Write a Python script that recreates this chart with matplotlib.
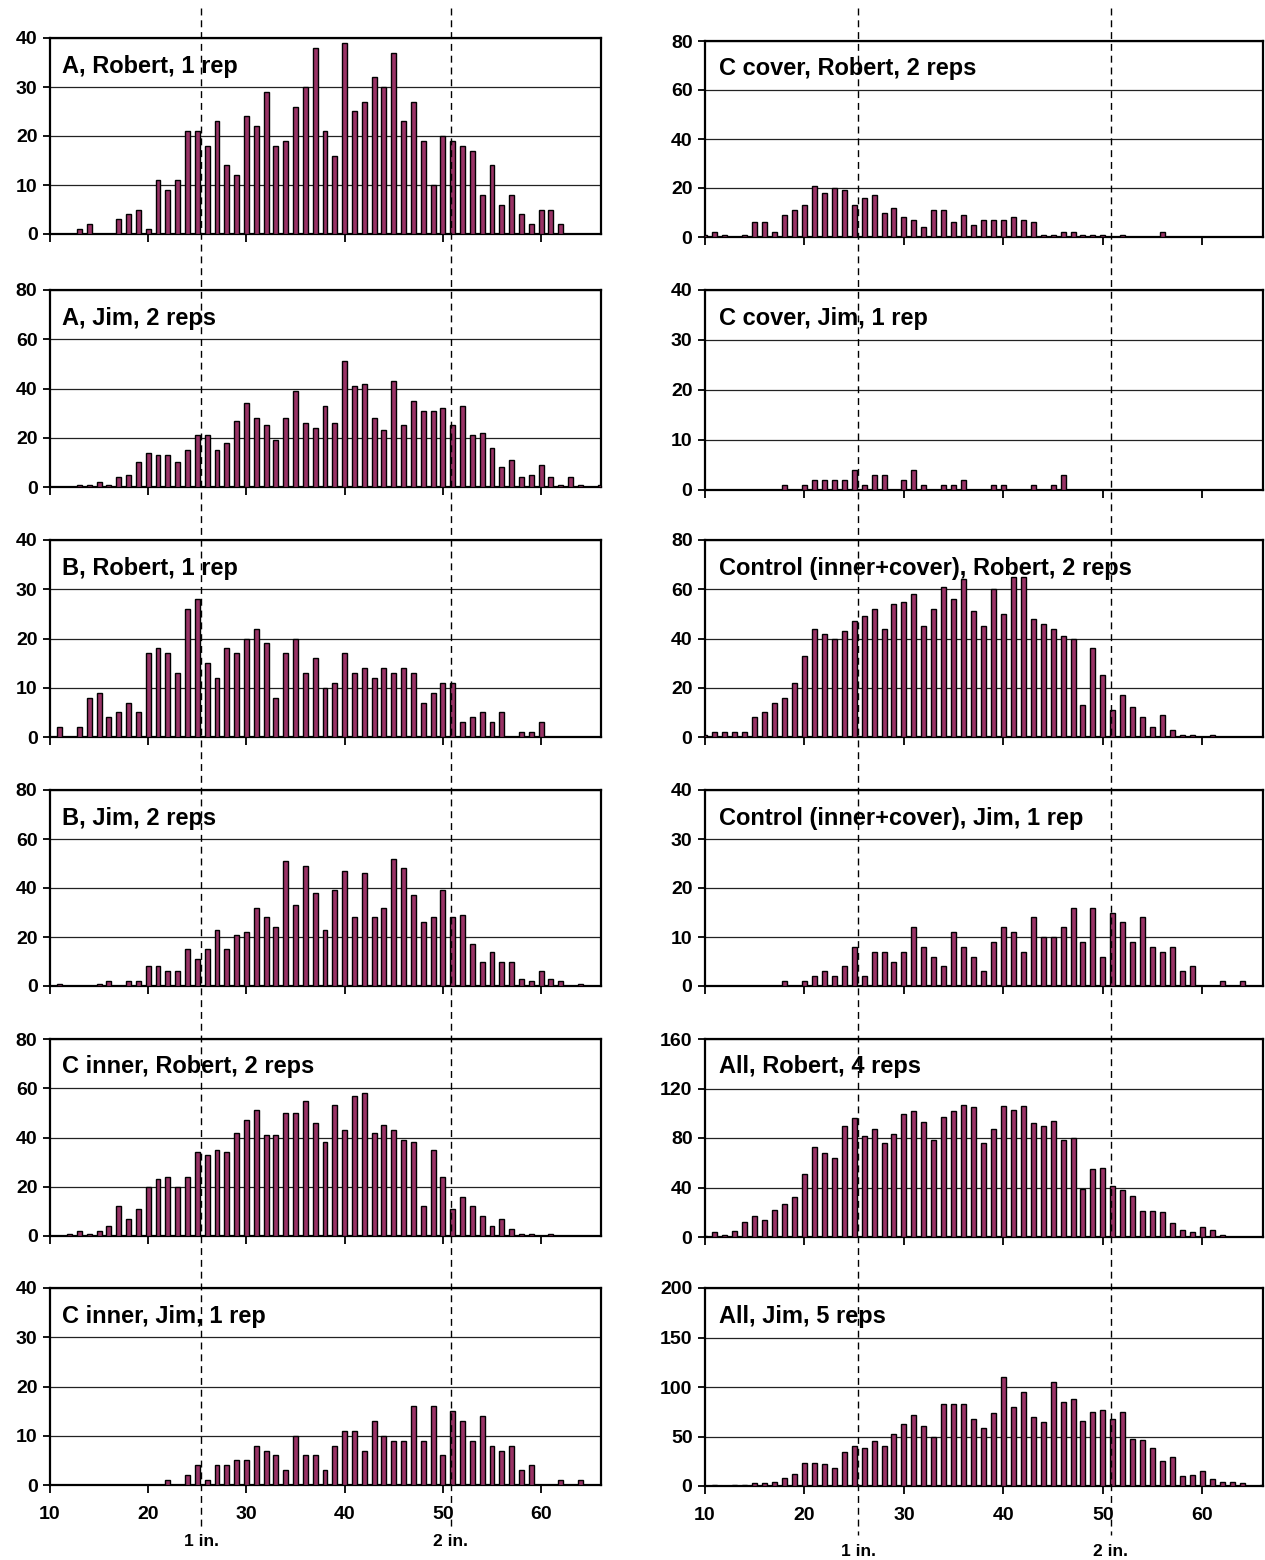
import matplotlib.pyplot as plt
from matplotlib.lines import Line2D
from matplotlib.transforms import blended_transform_factory

plt.rcParams['font.family'] = ['Liberation Sans', 'DejaVu Sans']
plt.rcParams['font.weight'] = 'bold'

# particle size classes in mm (one bar per class)
size_mm = list(range(10, 67))

# counts per size class, 10..66 mm, one line per decade
a_robert = [0, 0, 0, 1, 2, 0, 0, 3, 4, 5,
            1, 11, 9, 11, 21, 21, 18, 23, 14, 12,
            24, 22, 29, 18, 19, 26, 30, 38, 21, 16,
            39, 25, 27, 32, 30, 37, 23, 27, 19, 10,
            20, 19, 18, 17, 8, 14, 6, 8, 4, 2,
            5, 5, 2, 0, 0, 0, 0]
a_jim = [0, 0, 0, 1, 1, 2, 1, 4, 5, 10,
         14, 13, 13, 10, 15, 21, 21, 15, 18, 27,
         34, 28, 25, 19, 28, 39, 26, 24, 33, 26,
         51, 41, 42, 28, 23, 43, 25, 35, 31, 31,
         32, 25, 33, 21, 22, 16, 8, 11, 4, 5,
         9, 4, 1, 4, 1, 0, 1]
b_robert = [0, 2, 0, 2, 8, 9, 4, 5, 7, 5,
            17, 18, 17, 13, 26, 28, 15, 12, 18, 17,
            20, 22, 19, 8, 17, 20, 13, 16, 10, 11,
            17, 13, 14, 12, 14, 13, 14, 13, 7, 9,
            11, 11, 3, 4, 5, 3, 5, 0, 1, 1,
            3, 0, 0, 0, 0, 0, 0]
b_jim = [0, 1, 0, 0, 0, 1, 2, 0, 2, 2,
         8, 8, 6, 6, 15, 11, 15, 23, 15, 21,
         22, 32, 28, 24, 51, 33, 49, 38, 23, 39,
         47, 28, 46, 28, 32, 52, 48, 37, 26, 28,
         39, 28, 29, 17, 10, 14, 10, 10, 3, 2,
         6, 3, 2, 0, 1, 0, 0]
c_inner_robert = [0, 0, 1, 2, 1, 2, 4, 12, 7, 11,
                  20, 23, 24, 20, 24, 34, 33, 35, 34, 42,
                  47, 51, 41, 41, 50, 50, 55, 46, 38, 53,
                  43, 57, 58, 42, 45, 43, 39, 38, 12, 35,
                  24, 11, 16, 12, 8, 4, 7, 3, 1, 1,
                  0, 1, 0, 0, 0, 0, 0]
c_inner_jim = [0, 0, 0, 0, 0, 0, 0, 0, 0, 0,
               0, 0, 1, 0, 2, 4, 1, 4, 4, 5,
               5, 8, 7, 6, 3, 10, 6, 6, 3, 8,
               11, 11, 7, 13, 10, 9, 9, 16, 9, 16,
               6, 15, 13, 9, 14, 8, 7, 8, 3, 4,
               0, 0, 1, 0, 1, 0, 0]
c_cover_robert = [1, 2, 1, 0, 1, 6, 6, 2, 9, 11,
                  13, 21, 18, 20, 19, 13, 16, 17, 10, 12,
                  8, 7, 4, 11, 11, 6, 9, 5, 7, 7,
                  7, 8, 7, 6, 1, 1, 2, 2, 1, 1,
                  1, 0, 1, 0, 0, 0, 2, 0, 0, 0,
                  0, 0, 0, 0, 0, 0, 0]
c_cover_jim = [0, 0, 0, 0, 0, 0, 0, 0, 1, 0,
               1, 2, 2, 2, 2, 4, 1, 3, 3, 0,
               2, 4, 1, 0, 1, 1, 2, 0, 0, 1,
               1, 0, 0, 1, 0, 1, 3, 0, 0, 0,
               0, 0, 0, 0, 0, 0, 0, 0, 0, 0,
               0, 0, 0, 0, 0, 0, 0]
control_robert = [1, 2, 2, 2, 2, 8, 10, 14, 16, 22,
                  33, 44, 42, 40, 43, 47, 49, 52, 44, 54,
                  55, 58, 45, 52, 61, 56, 64, 51, 45, 60,
                  50, 65, 65, 48, 46, 44, 41, 40, 13, 36,
                  25, 11, 17, 12, 8, 4, 9, 3, 1, 1,
                  0, 1, 0, 0, 0, 0, 0]
control_jim = [0, 0, 0, 0, 0, 0, 0, 0, 1, 0,
               1, 2, 3, 2, 4, 8, 2, 7, 7, 5,
               7, 12, 8, 6, 4, 11, 8, 6, 3, 9,
               12, 11, 7, 14, 10, 10, 12, 16, 9, 16,
               6, 15, 13, 9, 14, 8, 7, 8, 3, 4,
               0, 0, 1, 0, 1, 0, 0]
all_robert = [1, 4, 2, 5, 12, 17, 14, 22, 27, 32,
              51, 73, 68, 64, 90, 96, 82, 87, 76, 83,
              99, 102, 93, 78, 97, 102, 107, 105, 76, 87,
              106, 103, 106, 92, 90, 94, 78, 80, 39, 55,
              56, 41, 38, 33, 21, 21, 20, 11, 6, 4,
              8, 6, 2, 0, 0, 0, 0]
all_jim = [0, 1, 0, 1, 1, 3, 3, 4, 8, 12,
           23, 23, 22, 18, 34, 40, 38, 45, 40, 53,
           63, 72, 61, 49, 83, 83, 83, 68, 59, 74,
           110, 80, 95, 70, 65, 105, 85, 88, 66, 75,
           77, 68, 75, 47, 46, 38, 25, 29, 10, 11,
           15, 7, 4, 4, 3, 0, 1]

left_titles = ["A, Robert, 1 rep", "A, Jim, 2 reps", "B, Robert, 1 rep",
               "B, Jim, 2 reps", "C inner, Robert, 2 reps", "C inner, Jim, 1 rep"]
left_counts = [a_robert, a_jim, b_robert, b_jim, c_inner_robert, c_inner_jim]
left_ymax = [40, 80, 40, 80, 80, 40]

right_titles = ["C cover, Robert, 2 reps", "C cover, Jim, 1 rep",
                "Control (inner+cover), Robert, 2 reps",
                "Control (inner+cover), Jim, 1 rep",
                "All, Robert, 4 reps", "All, Jim, 5 reps"]
right_counts = [c_cover_robert, c_cover_jim, control_robert, control_jim,
                all_robert, all_jim]
right_ymax = [80, 40, 80, 40, 160, 200]

x_ticks = [10, 20, 30, 40, 50, 60]
inch_marks = [25.4, 50.8]
inch_labels = ["1 in.", "2 in."]

W, H = 1265, 1560
fig = plt.figure(figsize=(W / 100, H / 100), dpi=100)

# panel rows in pixels (top, bottom) for each column
left_rows = [(38, 234), (290, 487), (540, 737), (790, 986), (1039, 1236), (1288, 1485)]
right_rows = [(41, 237), (290, 490), (540, 737), (790, 986), (1039, 1237), (1288, 1486)]
bar_color = '#993366'


def draw_column(x0, x1, rows, titles, counts, ymaxes, title_dx):
    axes = []
    for i, ((top, bot), title, cnt, ymax) in enumerate(zip(rows, titles, counts, ymaxes)):
        ax = fig.add_axes([x0 / W, 1 - bot / H, (x1 - x0) / W, (bot - top) / H])
        ax.bar(size_mm, cnt, width=0.5, color=bar_color, edgecolor='black',
               linewidth=1.0, zorder=3)
        ax.set_xlim(10, 66.1)
        ax.set_ylim(0, ymax)
        ax.set_yticks([ymax * k / 4 for k in range(5)])
        ax.set_yticklabels([str(int(ymax * k / 4)) for k in range(5)])
        ax.set_xticks(x_ticks)
        if i < len(rows) - 1:
            ax.set_xticklabels([])
        ax.yaxis.grid(True, color='#222222', linewidth=0.9, zorder=0)
        ax.set_axisbelow(True)
        for s in ax.spines.values():
            s.set_linewidth(1.6)
        ax.tick_params(axis='y', direction='out', length=5, width=1.3,
                       labelsize=14, pad=4)
        ax.tick_params(axis='x', direction='out', length=6, width=1.3,
                       labelsize=14, pad=9)
        ax.text(title_dx, 1 - 28 / (bot - top), title, transform=ax.transAxes,
                fontsize=17, fontweight='bold', va='center', ha='left', zorder=6)
        axes.append(ax)
    return axes


left_axes = draw_column(50, 601, left_rows, left_titles, left_counts, left_ymax, 0.022)
right_axes = draw_column(705, 1263, right_rows, right_titles, right_counts, right_ymax, 0.025)

# dashed guide lines at 1 and 2 inches, running through the whole column
for axes, y_end, y_lab in [(left_axes, 1530, 1541), (right_axes, 1535, 1551)]:
    tr = blended_transform_factory(axes[-1].transData, fig.transFigure)
    for xm, lab in zip(inch_marks, inch_labels):
        fig.add_artist(Line2D([xm, xm], [1 - 8 / H, 1 - y_end / H], transform=tr,
                              color='black', linewidth=1.0,
                              linestyle=(0, (5, 3.5)), zorder=10))
        fig.text(xm, 1 - y_lab / H, lab, transform=tr, ha='center', va='center',
                 fontsize=12.5, fontweight='bold')

fig.savefig('out.png', dpi=100)
